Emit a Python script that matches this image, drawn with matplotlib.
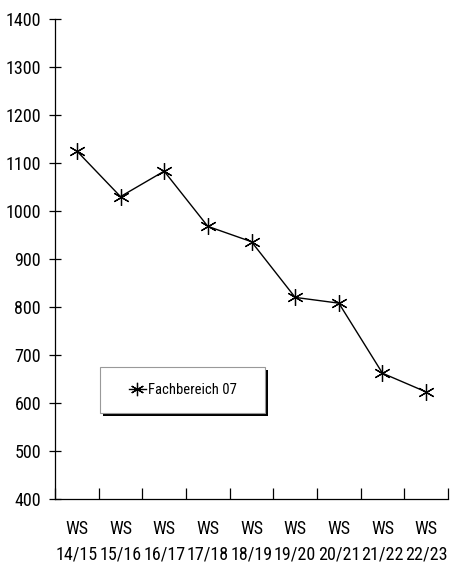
import matplotlib
matplotlib.use("Agg")
import matplotlib.pyplot as plt
from matplotlib.patches import Rectangle
from matplotlib.ticker import FixedLocator, NullFormatter

# narrow sans, close to the Arial Narrow of the original
plt.rcParams["font.family"] = ["Roboto Condensed", "Archivo Narrow", "Liberation Sans", "DejaVu Sans"]

# data
semesters = ["WS\n14/15", "WS\n15/16", "WS\n16/17", "WS\n17/18", "WS\n18/19",
             "WS\n19/20", "WS\n20/21", "WS\n21/22", "WS\n22/23"]
students = [1125, 1030, 1083, 968, 936, 820, 808, 662, 623]
series_name = "Fachbereich 07"
y_ticks = [400, 500, 600, 700, 800, 900, 1000, 1100, 1200, 1300, 1400]

fig = plt.figure(figsize=(4.5, 5.7), dpi=100)
ax = fig.add_axes([55 / 450, 1 - 499 / 570, 393 / 450, 480 / 570])

x = list(range(len(semesters)))
line, = ax.plot(x, students, color="black", linewidth=1.0,
                marker=(6, 2, 0), markersize=12, markeredgewidth=0.9,
                label=series_name)

ax.set_xlim(-0.5, len(semesters) - 0.5)
ax.set_ylim(y_ticks[0], y_ticks[-1])

# category boundaries carry the tick marks, labels sit in between
ax.xaxis.set_major_locator(FixedLocator([i - 0.5 for i in range(len(semesters) + 1)]))
ax.xaxis.set_major_formatter(NullFormatter())
ax.xaxis.set_minor_locator(FixedLocator(x))
ax.set_xticklabels(semesters, minor=True, linespacing=1.55)
ax.tick_params(axis="x", which="major", direction="in", length=8, width=0.9)
ax.tick_params(axis="x", which="minor", length=0, pad=15, labelsize=13)

ax.set_yticks(y_ticks)
ax.tick_params(axis="y", direction="inout", length=8, width=0.9, pad=6, labelsize=13)

for side in ("top", "right"):
    ax.spines[side].set_visible(False)
for side in ("left", "bottom"):
    ax.spines[side].set_linewidth(0.9)

# legend box with a hard black shadow
W, H = 450, 570
fig.patches.append(Rectangle((103 / W, 1 - 416 / H), 165 / W, 46 / H,
                             transform=fig.transFigure, facecolor="black",
                             edgecolor="none", zorder=5))
fig.patches.append(Rectangle((100 / W, 1 - 413 / H), 165 / W, 46 / H,
                             transform=fig.transFigure, facecolor="white",
                             edgecolor="#999999", linewidth=0.8, zorder=6))
leg = fig.legend(handles=[line], loc="center", bbox_to_anchor=(183 / W, 1 - 390 / H),
                 frameon=False, fontsize=10.5, handlelength=1.2, handletextpad=0.15,
                 markerscale=0.8)
leg.set_zorder(7)

fig.savefig("out.png", dpi=100)
